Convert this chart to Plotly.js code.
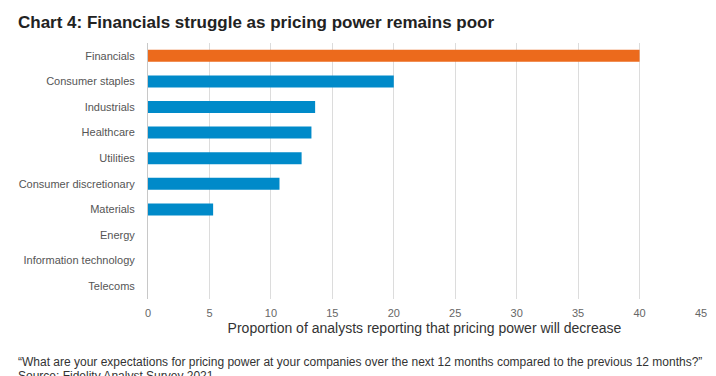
<!DOCTYPE html>
<html><head><meta charset="utf-8">
<script src="https://cdn.plot.ly/plotly-3.0.1.min.js"></script>
<style>html,body{margin:0;padding:0;background:#fff;}#chart{width:716px;height:376px;}</style>
</head><body><div id="chart"></div>
<script>
const categories = ["Financials","Consumer staples","Industrials","Healthcare","Utilities","Consumer discretionary","Materials","Energy","Information technology","Telecoms"];
const values = [40, 20, 13.6, 13.3, 12.5, 10.7, 5.3, 0, 0, 0];
const barColors = ["#EC6A1C","#008AC9","#008AC9","#008AC9","#008AC9","#008AC9","#008AC9","#008AC9","#008AC9","#008AC9"];
const xTicks = [0,5,10,15,20,25,30,35,40,45];

const trace = {
  type: 'bar', orientation: 'h',
  x: values, y: categories,
  marker: {color: barColors},
  hoverinfo: 'none'
};
const L = -130/553;
const layout = {
  width: 716, height: 376,
  margin: {l: 148, r: 15, t: 43, b: 77},
  paper_bgcolor: '#fff', plot_bgcolor: '#fff',
  font: {family: 'Liberation Sans, Arial, sans-serif', color: '#555'},
  bargap: 0.53,
  showlegend: false,
  xaxis: {
    range: [0, 45], tickvals: xTicks, ticks: '',
    showgrid: true, gridcolor: '#dcdcdc', gridwidth: 1,
    zeroline: false, showline: false,
    tickfont: {size: 11, color: '#666'}, ticklabelstandoff: 6,
    title: {text: 'Proportion of analysts reporting that pricing power will decrease', font: {size: 14, color: '#333'}, standoff: 5}
  },
  yaxis: {
    autorange: 'reversed', ticks: '', showgrid: false, zeroline: false,
    showline: true, linecolor: '#c8c8c8', linewidth: 1,
    tickfont: {size: 11, color: '#555'}, ticklabelstandoff: 10
  },
  annotations: [
    {xref: 'paper', yref: 'paper', x: L, y: 1, xanchor: 'left', yanchor: 'bottom', yshift: 9, xshift: -2,
     text: '<b>Chart 4: Financials struggle as pricing power remains poor</b>', showarrow: false,
     font: {size: 17, color: '#222', family: 'Liberation Sans, Arial, sans-serif'}},
    {xref: 'paper', yref: 'paper', x: L, y: 0, xanchor: 'left', yanchor: 'top', yshift: -54, xshift: -2,
     text: '“What are your expectations for pricing power at your companies over the next 12 months compared to the previous 12 months?”',
     showarrow: false, font: {size: 12, color: '#333'}},
    {xref: 'paper', yref: 'paper', x: L, y: 0, xanchor: 'left', yanchor: 'top', yshift: -68, xshift: -2,
     text: 'Source: Fidelity Analyst Survey 2021', showarrow: false, font: {size: 12, color: '#333'}}
  ]
};
Plotly.newPlot('chart', [trace], layout, {displayModeBar: false, staticPlot: true});
</script></body></html>
